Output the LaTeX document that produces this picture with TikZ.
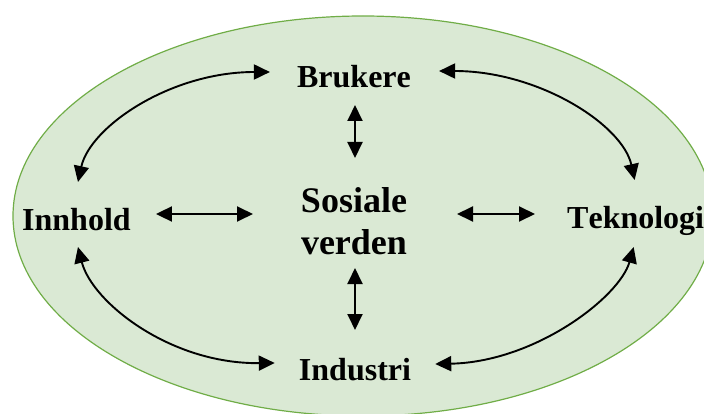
\documentclass[tikz,border=0pt]{standalone}
\usepackage{fontspec}
\setmainfont[Kerning=Off]{Liberation Serif}
\usetikzlibrary{arrows.meta}
\definecolor{ovalfill}{HTML}{DAE9D4}
\definecolor{ovalline}{HTML}{70AD47}
\begin{document}
\begin{tikzpicture}[x=1pt,y=-1pt,
  lbl/.style={inner sep=0pt, font=\fontsize{32}{36}\selectfont\bfseries},
  biglbl/.style={inner sep=0pt, align=center, font=\fontsize{36}{42}\selectfont\bfseries},
  tip/.tip={Triangle[length=16pt,width=15pt]},
  link/.style={line width=1.9pt, tip-tip},
]
\useasboundingbox (0,0) rectangle (704,414);

% background oval
\draw[fill=ovalfill, draw=ovalline, line width=1.2pt] (363,216) ellipse [x radius=350, y radius=200];

% labels
\node[lbl, anchor=base] (bru) at (354,88) {Brukere};
\node[biglbl] (sos) at (354,221.5) {Sosiale\\verden};
\node[lbl, anchor=base west] (inn) at (22,230) {Innhold};
\node[lbl, anchor=base west] (tek) at (567,229) {Teknologi};
\node[lbl, anchor=base] (ind) at (355,380) {Industri};

% straight links to the centre
\draw[link] ([shift={(1,17)}]bru.base) -- ([shift={(1,-63.5)}]sos.center);
\draw[link] ([shift={(1,46.5)}]sos.center) -- ([shift={(0,-50)}]ind.base);
\draw[link] ([shift={(25,-16)}]inn.base east) -- ([shift={(-101,-7.5)}]sos.center);
\draw[link] ([shift={(103,-7.5)}]sos.center) -- ([shift={(-32,-15)}]tek.base west);

% curved links around the ring
\draw[link] ([shift={(1.5,-48)}]inn.base) .. controls +(12,-55) and +(-100,0) .. ([shift={(-27,-16)}]bru.base west);
\draw[link] ([shift={(28,-17)}]bru.base east) .. controls +(100,0) and +(-12,-55) .. ([shift={(-1,-49)}]tek.base);
\draw[link] ([shift={(1.5,17)}]inn.base) .. controls +(14,55) and +(-105,1) .. ([shift={(-24,-17)}]ind.base west);
\draw[link] ([shift={(24,-16)}]ind.base east) .. controls +(100,-2) and +(-14,50) .. ([shift={(-2,18)}]tek.base);
\end{tikzpicture}
\end{document}
